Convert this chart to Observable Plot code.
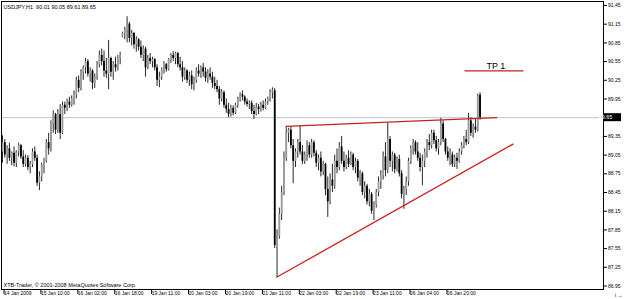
<!DOCTYPE html>
<html><head><meta charset="utf-8">
<script src="https://cdn.jsdelivr.net/npm/d3@7"></script>
<script src="https://cdn.jsdelivr.net/npm/@observablehq/plot@0.6"></script>
<style>html,body{margin:0;padding:0;background:#fff;}</style>
</head><body><div id="chart"></div>
<script>
const open = [89.10,89.25,89.05,89.15,89.00,89.08,88.92,89.10,89.20,89.02,
88.90,89.00,88.85,88.90,89.10,89.00,88.60,88.70,88.88,88.95,
89.25,89.15,89.55,89.70,89.45,89.70,89.40,89.85,89.80,89.90,
89.85,89.95,90.02,90.25,90.12,90.38,90.45,90.55,90.35,90.40,
90.20,90.30,90.50,90.65,90.55,90.40,90.35,90.60,90.38,90.50,
90.45,90.60,90.95,91.00,91.05,91.15,90.92,91.00,90.82,90.90,
90.78,90.65,90.75,90.45,90.60,90.55,90.58,90.45,90.25,90.30,
90.42,90.50,90.42,90.58,90.65,90.60,90.68,90.50,90.45,90.30,
90.40,90.25,90.32,90.18,90.25,90.40,90.35,90.45,90.38,90.28,
90.35,90.30,90.20,90.15,90.10,89.95,90.05,89.85,89.78,89.70,
89.80,89.72,89.85,89.95,90.02,89.98,89.90,89.86,89.88,89.75,
89.70,89.82,89.78,89.85,89.80,89.90,89.95,90.05,90.08,87.60,
87.75,88.10,88.45,89.00,89.40,89.45,89.20,88.95,89.10,89.25,
89.10,88.95,89.05,89.20,89.05,89.25,89.08,88.92,89.00,88.78,
88.90,88.50,88.30,88.65,88.55,88.95,88.85,89.18,88.95,88.85,
89.00,88.90,89.05,88.85,88.95,88.68,88.75,88.45,88.55,88.30,
88.42,88.15,88.25,88.45,88.62,88.72,89.02,88.80,89.30,88.95,
89.05,88.82,88.98,88.75,88.42,88.50,88.62,88.95,89.15,89.25,
89.10,89.00,88.85,88.95,89.10,89.25,89.20,89.40,89.28,89.15,
89.25,89.55,89.30,89.10,89.00,89.05,88.90,89.00,88.95,89.10,
89.20,89.30,89.25,89.60,89.40,89.50,89.45,90.01];
const high = [89.36,89.30,89.20,89.24,89.10,89.18,89.12,89.24,89.22,89.12,
89.05,89.04,88.95,89.15,89.18,89.05,88.78,88.92,89.00,89.30,
89.40,89.60,89.76,89.72,89.78,89.86,89.90,89.90,89.95,89.98,
90.00,90.08,90.30,90.32,90.42,90.48,90.60,90.58,90.45,90.42,
90.35,90.55,90.72,90.75,90.72,90.60,90.89,90.62,90.55,90.62,
90.65,90.70,91.02,91.10,91.27,91.18,91.05,91.02,90.95,90.92,
90.88,90.80,90.78,90.65,90.68,90.62,90.60,90.50,90.38,90.45,
90.55,90.52,90.60,90.68,90.71,90.70,90.70,90.62,90.55,90.45,
90.42,90.38,90.40,90.30,90.45,90.50,90.48,90.52,90.45,90.42,
90.45,90.38,90.30,90.25,90.15,90.10,90.08,89.95,89.88,89.85,
89.84,89.88,89.98,90.05,90.08,90.00,89.95,89.92,89.92,89.85,
89.88,89.86,89.90,89.92,89.95,89.98,90.10,90.13,90.12,87.85,
88.20,88.55,89.10,89.50,89.48,89.50,89.30,89.15,89.30,89.52,
89.20,89.10,89.28,89.25,89.30,89.28,89.12,89.05,89.10,88.95,
88.92,88.70,88.75,88.90,89.05,89.15,89.25,89.35,89.10,89.05,
89.12,89.10,89.08,89.00,88.98,88.80,88.78,88.62,88.58,88.50,
88.45,88.30,88.50,88.70,88.80,89.10,89.25,89.56,89.35,89.10,
89.08,89.02,89.05,88.80,88.55,88.70,89.00,89.20,89.30,89.28,
89.25,89.08,89.05,89.15,89.30,89.38,89.45,89.45,89.35,89.30,
89.64,89.60,89.32,89.18,89.15,89.10,89.05,89.08,89.15,89.25,
89.35,89.45,89.72,89.65,89.55,89.62,90.03,90.05];
const low = [88.92,89.00,88.90,88.95,88.88,88.86,88.85,89.02,88.98,88.85,
88.86,88.80,88.75,88.85,88.95,88.55,88.48,88.62,88.75,88.92,
89.05,89.10,89.40,89.38,89.40,89.30,89.38,89.70,89.75,89.80,
89.82,89.85,89.95,90.05,90.08,90.25,90.35,90.30,90.22,90.10,
90.12,90.25,90.45,90.48,90.30,90.28,90.10,90.30,90.25,90.38,
90.40,90.50,90.93,90.90,90.85,90.85,90.80,90.75,90.70,90.72,
90.60,90.55,90.30,90.42,90.50,90.45,90.40,90.15,90.13,90.25,
90.35,90.38,90.40,90.52,90.55,90.50,90.45,90.40,90.22,90.25,
90.20,90.15,90.10,90.08,90.20,90.30,90.28,90.30,90.22,90.20,
90.25,90.12,90.10,90.05,89.85,89.90,89.80,89.72,89.65,89.66,
89.68,89.70,89.80,89.90,89.92,89.85,89.82,89.78,89.70,89.62,
89.68,89.70,89.74,89.76,89.78,89.85,89.90,89.95,87.55,87.08,
87.70,88.00,88.40,88.95,89.25,89.15,88.59,88.85,89.00,89.05,
88.90,88.90,88.95,89.00,89.00,89.02,88.85,88.80,88.70,88.72,
88.40,88.05,88.25,88.45,88.50,88.75,88.80,88.90,88.78,88.82,
88.85,88.88,88.80,88.75,88.62,88.55,88.40,88.35,88.25,88.22,
88.10,88.00,88.20,88.38,88.50,88.65,88.70,88.75,88.85,88.78,
88.75,88.78,88.70,88.35,88.18,88.40,88.55,88.90,89.05,89.05,
88.95,88.78,88.56,88.85,89.00,89.12,89.15,89.22,89.10,89.05,
89.20,89.25,89.05,88.95,88.88,88.85,88.85,88.82,88.92,89.05,
89.15,89.20,89.22,89.35,89.32,89.40,89.42,89.61];
const close = [89.25,89.05,89.15,89.00,89.08,88.92,89.10,89.20,89.02,88.90,
89.00,88.85,88.90,89.10,89.00,88.60,88.70,88.88,88.95,89.25,
89.15,89.55,89.70,89.45,89.70,89.40,89.85,89.80,89.90,89.85,
89.95,90.02,90.25,90.12,90.38,90.45,90.55,90.35,90.40,90.20,
90.30,90.50,90.65,90.55,90.40,90.35,90.60,90.38,90.50,90.45,
90.60,90.65,91.00,91.05,91.15,90.92,91.00,90.82,90.90,90.78,
90.65,90.75,90.45,90.60,90.55,90.58,90.45,90.25,90.30,90.42,
90.50,90.42,90.58,90.65,90.60,90.68,90.50,90.45,90.30,90.40,
90.25,90.32,90.18,90.25,90.40,90.35,90.45,90.38,90.28,90.35,
90.30,90.20,90.15,90.10,89.95,90.05,89.85,89.78,89.70,89.80,
89.72,89.85,89.95,90.02,89.98,89.90,89.86,89.88,89.75,89.70,
89.82,89.78,89.85,89.80,89.90,89.95,90.05,90.08,87.60,87.75,
88.10,88.45,89.00,89.40,89.45,89.20,88.95,89.10,89.25,89.10,
88.95,89.05,89.20,89.05,89.25,89.08,88.92,89.00,88.78,88.90,
88.50,88.30,88.65,88.55,88.95,88.85,89.18,88.95,88.85,89.00,
88.90,89.05,88.85,88.95,88.68,88.75,88.45,88.55,88.30,88.42,
88.15,88.25,88.45,88.62,88.72,89.02,88.80,89.30,88.95,89.05,
88.82,88.98,88.75,88.42,88.50,88.62,88.95,89.15,89.25,89.10,
89.00,88.85,88.95,89.10,89.25,89.20,89.40,89.28,89.15,89.25,
89.55,89.30,89.10,89.00,89.05,88.90,89.00,88.95,89.10,89.20,
89.30,89.25,89.60,89.40,89.50,89.45,90.00,89.65];

const xTickIndex = [0,16,32,48,64,80,96,112,128,144,160,176,192];
const xTickLabels = ["14 Jan 2009","15 Jan 10:00","16 Jan 02:00","16 Jan 18:00","19 Jan 11:00","20 Jan 03:00","20 Jan 19:00","21 Jan 11:00","22 Jan 03:00","22 Jan 19:00","23 Jan 11:00","26 Jan 04:00","26 Jan 20:00"];
const yTicks = [91.45,91.15,90.85,90.55,90.25,89.95,89.65,89.35,89.05,88.75,88.45,88.15,87.85,87.55,87.25,86.95];

const upperLineIdx = [122.7, 214.4], upperLinePrice = [89.51, 89.65];
const lowerLineIdx = [118.8, 221.5], lowerLinePrice = [87.09, 89.23];
const tpIdx = [200.3, 225.8], tpPrice = 90.40, tpLabel = "TP 1";
const currentPrice = 89.65;
const symbolTitle = "USDJPY,H1";
const copyright = "XTB-Trader, \u00a9 2001-2008 MetaQuotes Software Corp.";

const bars = open.map((o, i) => ({i, open: o, high: high[i], low: low[i], close: close[i]}));
const f2 = v => v.toFixed(2);
const title = `${symbolTitle}  ${f2(open.at(-1))} ${f2(high.at(-1))} ${f2(low.at(-1))} ${f2(close.at(-1))}`;
const tickLabel = new Map(xTickIndex.map((t, k) => [t, xTickLabels[k]]));
const red = "#c8201e";
const font = "'Liberation Sans', Arial, sans-serif";

const chart = Plot.plot({
  width: 625, height: 299,
  marginLeft: 1, marginRight: 22, marginTop: 1, marginBottom: 10,
  x: {domain: [-0.4335, 260.51]},
  y: {domain: [86.894, 91.514]},
  style: {fontFamily: font, fontSize: "5px", background: "white", color: "black"},
  marks: [
    Plot.ruleY([currentPrice], {stroke: "#c4c4c4", strokeWidth: 1}),
    Plot.ruleX(bars, {x: "i", y1: "low", y2: "high", stroke: "#111", strokeWidth: 0.9}),
    Plot.ruleX(bars, {x: "i", y1: "open", y2: "close", stroke: d => d.close >= d.open ? "#9c9c9c" : "#000", strokeWidth: 1.8}),
    Plot.link([0], {x1: () => upperLineIdx[0], y1: () => upperLinePrice[0], x2: () => upperLineIdx[1], y2: () => upperLinePrice[1], stroke: red, strokeWidth: 1.3}),
    Plot.link([0], {x1: () => lowerLineIdx[0], y1: () => lowerLinePrice[0], x2: () => lowerLineIdx[1], y2: () => lowerLinePrice[1], stroke: red, strokeWidth: 1.3}),
    Plot.link([0], {x1: () => tpIdx[0], y1: () => tpPrice, x2: () => tpIdx[1], y2: () => tpPrice, stroke: red, strokeWidth: 1.3}),
    Plot.text([tpLabel], {x: () => (tpIdx[0] + tpIdx[1]) / 2 + 0.8, y: () => tpPrice, text: d => d, dy: -5, fontSize: 9, fill: "black"}),
    Plot.text([title], {frameAnchor: "top-left", text: d => d, dx: 2, dy: 4, textAnchor: "start", fontSize: 5.5}),
    Plot.text([copyright], {frameAnchor: "bottom-left", text: d => d, dx: 2, dy: -3, textAnchor: "start", fontSize: 5.5}),
    Plot.axisX({ticks: xTickIndex, tickFormat: d => tickLabel.get(d), tickSize: 5, tickPadding: -3, textAnchor: "start", dx: 1.5, fontSize: 5}),
    Plot.axisY({anchor: "right", ticks: yTicks, tickFormat: d => d === currentPrice ? "" : f2(d), tickSize: 3, tickPadding: 1.5, fontSize: 5}),
    Plot.frame({stroke: "black", strokeWidth: 1})
  ]
});

// current price tag on the right scale
const svg = d3.select(chart).style("overflow", "visible");
const yPos = chart.scale("y").apply(currentPrice);
const g = svg.append("g");
g.append("rect").attr("x", 604).attr("y", yPos - 4).attr("width", 17).attr("height", 8).attr("fill", "black");
g.append("text").attr("x", 605.5).attr("y", yPos).attr("dy", "0.35em").attr("fill", "white")
  .attr("font-size", 5.5).attr("font-family", font).text(f2(currentPrice));
document.getElementById("chart").appendChild(chart);
</script>
</body></html>
